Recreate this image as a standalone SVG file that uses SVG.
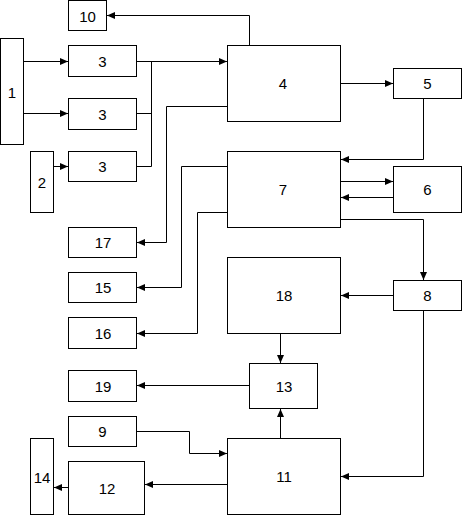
<svg xmlns="http://www.w3.org/2000/svg" width="462" height="515" viewBox="0 0 462 515">
<style>
rect{fill:#fff;stroke:#000;stroke-width:1}
text{font-family:"Liberation Sans",Arial,sans-serif;font-size:15px;fill:#000;text-anchor:middle;dominant-baseline:central}
#connectors path{fill:none;stroke:#000;stroke-width:1}
.a{marker-end:url(#ah)}
</style>
<defs>
<marker id="ah" markerUnits="userSpaceOnUse" markerWidth="8" markerHeight="8" viewBox="0 0 8 8" refX="8" refY="4" orient="auto">
<path d="M0,0.5 L8,4 L0,7.5 Z" fill="#000"/>
</marker>
</defs>
<rect x="0" y="0" width="462" height="515" style="stroke:none"/>
<g id="connectors">
<path class="a" d="M23.5,61.5 H68"/>
<path class="a" d="M23.5,113.5 H68"/>
<path class="a" d="M53.5,166.5 H68"/>
<path class="a" d="M136.5,61.5 H227"/>
<path d="M151.5,61.5 V166.5 M136.5,113.5 H151.5 M136.5,166.5 H151.5"/>
<path class="a" d="M249.5,45.5 V15.5 H107"/>
<path class="a" d="M340.5,83.5 H393"/>
<path class="a" d="M227.5,106.5 H166.5 V242.5 H137"/>
<path class="a" d="M423.5,98.5 V159.5 H341"/>
<path class="a" d="M340.5,181.5 H393"/>
<path class="a" d="M393.5,197.5 H341"/>
<path class="a" d="M340.5,219.5 H423.5 V280"/>
<path class="a" d="M227.5,166.5 H181.5 V287.5 H137"/>
<path class="a" d="M227.5,212.5 H197.5 V333.5 H137"/>
<path class="a" d="M393.5,295.5 H341"/>
<path class="a" d="M423.5,310.5 V476.5 H341"/>
<path class="a" d="M280.5,333.5 V363"/>
<path class="a" d="M280.5,438.5 V409"/>
<path class="a" d="M249.5,385.5 H137"/>
<path class="a" d="M136.5,431.5 H189.5 V453.5 H227"/>
<path class="a" d="M227.5,484.5 H145"/>
<path class="a" d="M68.5,487.5 H54"/>
</g>
<g id="n10"><rect x="68.5" y="0.5" width="38" height="30"/><text x="87.5" y="16">10</text></g>
<g id="n1"><rect x="0.5" y="38.5" width="23" height="106"/><text x="12" y="92">1</text></g>
<g id="n3a"><rect x="68.5" y="45.5" width="68" height="31"/><text x="102.5" y="61.5">3</text></g>
<g id="n3b"><rect x="68.5" y="98.5" width="68" height="31"/><text x="102.5" y="114">3</text></g>
<g id="n3c"><rect x="68.5" y="151.5" width="68" height="30"/><text x="102.5" y="166.5">3</text></g>
<g id="n2"><rect x="30.5" y="151.5" width="23" height="61"/><text x="42" y="182">2</text></g>
<g id="n4"><rect x="227.5" y="45.5" width="113" height="76"/><text x="283" y="83.5">4</text></g>
<g id="n5"><rect x="393.5" y="68.5" width="68" height="30"/><text x="427.5" y="83.5">5</text></g>
<g id="n7"><rect x="227.5" y="151.5" width="113" height="76"/><text x="283" y="189.5">7</text></g>
<g id="n6"><rect x="393.5" y="166.5" width="68" height="46"/><text x="427.5" y="189.5">6</text></g>
<g id="n17"><rect x="68.5" y="227.5" width="68" height="30"/><text x="103" y="242.5">17</text></g>
<g id="n15"><rect x="68.5" y="272.5" width="68" height="30"/><text x="103" y="287.5">15</text></g>
<g id="n16"><rect x="68.5" y="317.5" width="68" height="31"/><text x="103" y="333">16</text></g>
<g id="n18"><rect x="227.5" y="257.5" width="113" height="76"/><text x="284" y="295.5">18</text></g>
<g id="n8"><rect x="393.5" y="280.5" width="68" height="30"/><text x="427.5" y="295.5">8</text></g>
<g id="n13"><rect x="249.5" y="363.5" width="68" height="45"/><text x="284" y="386">13</text></g>
<g id="n19"><rect x="68.5" y="370.5" width="68" height="31"/><text x="103" y="386">19</text></g>
<g id="n9"><rect x="68.5" y="416.5" width="68" height="30"/><text x="102.5" y="431.5">9</text></g>
<g id="n11"><rect x="227.5" y="438.5" width="113" height="76"/><text x="284" y="476.5">11</text></g>
<g id="n14"><rect x="30.5" y="438.5" width="23" height="76"/><text x="42" y="477">14</text></g>
<g id="n12"><rect x="68.5" y="461.5" width="76" height="53"/><text x="107" y="488">12</text></g>
</svg>
